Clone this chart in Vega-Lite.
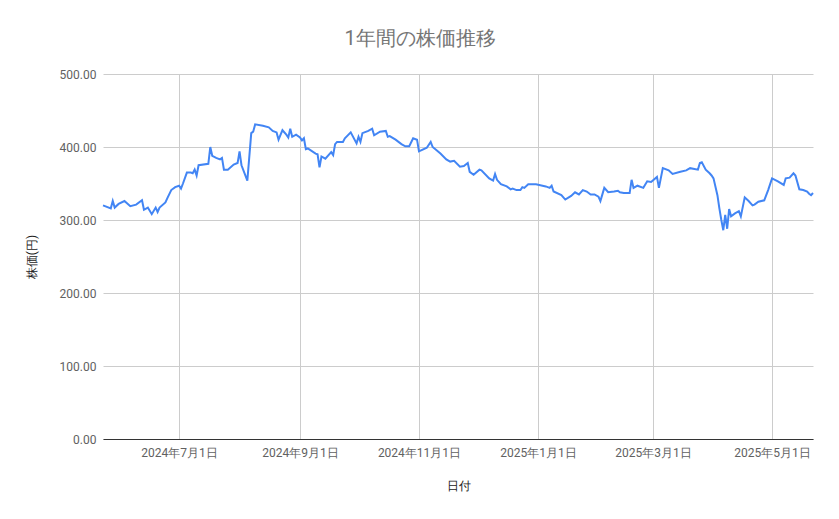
{
  "$schema": "https://vega.github.io/schema/vega-lite/v6.json",
  "width": 710,
  "height": 365,
  "autosize": "none",
  "padding": {"left": 103, "top": 74, "right": 26, "bottom": 80},
  "background": "white",
  "title": {
    "text": "1年間の株価推移",
    "font": "Roboto",
    "fontSize": 20,
    "fontWeight": "normal",
    "color": "#757575",
    "anchor": "middle",
    "dx": -38,
    "offset": 19
  },
  "data": {
    "values": [
      {"date": "2024-05-23", "price": 320}, {"date": "2024-05-27", "price": 316}, {"date": "2024-05-28", "price": 326},
      {"date": "2024-05-29", "price": 317}, {"date": "2024-05-31", "price": 322}, {"date": "2024-06-03", "price": 326},
      {"date": "2024-06-06", "price": 319}, {"date": "2024-06-09", "price": 321}, {"date": "2024-06-12", "price": 327},
      {"date": "2024-06-13", "price": 314}, {"date": "2024-06-15", "price": 317}, {"date": "2024-06-17", "price": 308},
      {"date": "2024-06-19", "price": 317}, {"date": "2024-06-20", "price": 311}, {"date": "2024-06-21", "price": 317},
      {"date": "2024-06-24", "price": 324}, {"date": "2024-06-25", "price": 330}, {"date": "2024-06-27", "price": 341},
      {"date": "2024-06-29", "price": 345}, {"date": "2024-07-01", "price": 347}, {"date": "2024-07-02", "price": 343},
      {"date": "2024-07-03", "price": 350}, {"date": "2024-07-05", "price": 365}, {"date": "2024-07-07", "price": 365},
      {"date": "2024-07-08", "price": 364}, {"date": "2024-07-09", "price": 369}, {"date": "2024-07-10", "price": 361},
      {"date": "2024-07-11", "price": 375}, {"date": "2024-07-16", "price": 377}, {"date": "2024-07-17", "price": 400},
      {"date": "2024-07-18", "price": 388}, {"date": "2024-07-20", "price": 385}, {"date": "2024-07-22", "price": 383},
      {"date": "2024-07-23", "price": 385}, {"date": "2024-07-24", "price": 369}, {"date": "2024-07-26", "price": 369},
      {"date": "2024-07-29", "price": 376}, {"date": "2024-07-31", "price": 378}, {"date": "2024-08-01", "price": 394},
      {"date": "2024-08-02", "price": 375}, {"date": "2024-08-05", "price": 354}, {"date": "2024-08-07", "price": 419},
      {"date": "2024-08-08", "price": 421}, {"date": "2024-08-09", "price": 431}, {"date": "2024-08-13", "price": 429},
      {"date": "2024-08-16", "price": 427}, {"date": "2024-08-18", "price": 422}, {"date": "2024-08-20", "price": 420},
      {"date": "2024-08-21", "price": 410}, {"date": "2024-08-23", "price": 423}, {"date": "2024-08-25", "price": 417},
      {"date": "2024-08-26", "price": 413}, {"date": "2024-08-27", "price": 425}, {"date": "2024-08-28", "price": 414},
      {"date": "2024-08-30", "price": 417}, {"date": "2024-09-01", "price": 413}, {"date": "2024-09-02", "price": 409},
      {"date": "2024-09-03", "price": 412}, {"date": "2024-09-04", "price": 397}, {"date": "2024-09-05", "price": 398},
      {"date": "2024-09-09", "price": 391}, {"date": "2024-09-10", "price": 390}, {"date": "2024-09-11", "price": 372},
      {"date": "2024-09-12", "price": 387}, {"date": "2024-09-14", "price": 384}, {"date": "2024-09-17", "price": 393},
      {"date": "2024-09-18", "price": 389}, {"date": "2024-09-19", "price": 404}, {"date": "2024-09-20", "price": 407},
      {"date": "2024-09-23", "price": 407}, {"date": "2024-09-24", "price": 412}, {"date": "2024-09-27", "price": 420},
      {"date": "2024-09-30", "price": 405}, {"date": "2024-10-01", "price": 414}, {"date": "2024-10-02", "price": 407},
      {"date": "2024-10-03", "price": 419}, {"date": "2024-10-06", "price": 422}, {"date": "2024-10-08", "price": 425},
      {"date": "2024-10-09", "price": 416}, {"date": "2024-10-12", "price": 421}, {"date": "2024-10-15", "price": 422},
      {"date": "2024-10-16", "price": 414}, {"date": "2024-10-17", "price": 415}, {"date": "2024-10-20", "price": 410},
      {"date": "2024-10-23", "price": 404}, {"date": "2024-10-25", "price": 401}, {"date": "2024-10-27", "price": 401},
      {"date": "2024-10-29", "price": 412}, {"date": "2024-10-31", "price": 410}, {"date": "2024-11-01", "price": 394},
      {"date": "2024-11-05", "price": 399}, {"date": "2024-11-07", "price": 407}, {"date": "2024-11-08", "price": 400},
      {"date": "2024-11-12", "price": 391}, {"date": "2024-11-15", "price": 383}, {"date": "2024-11-17", "price": 380},
      {"date": "2024-11-19", "price": 381}, {"date": "2024-11-22", "price": 373}, {"date": "2024-11-24", "price": 374},
      {"date": "2024-11-26", "price": 378}, {"date": "2024-11-27", "price": 366}, {"date": "2024-11-29", "price": 362},
      {"date": "2024-12-02", "price": 369}, {"date": "2024-12-03", "price": 368}, {"date": "2024-12-07", "price": 357},
      {"date": "2024-12-09", "price": 354}, {"date": "2024-12-10", "price": 363}, {"date": "2024-12-11", "price": 355},
      {"date": "2024-12-13", "price": 349}, {"date": "2024-12-16", "price": 346}, {"date": "2024-12-18", "price": 342},
      {"date": "2024-12-19", "price": 343}, {"date": "2024-12-21", "price": 341}, {"date": "2024-12-23", "price": 341},
      {"date": "2024-12-24", "price": 345}, {"date": "2024-12-25", "price": 344}, {"date": "2024-12-27", "price": 349},
      {"date": "2024-12-31", "price": 349}, {"date": "2025-01-05", "price": 346}, {"date": "2025-01-07", "price": 344},
      {"date": "2025-01-08", "price": 347}, {"date": "2025-01-09", "price": 339}, {"date": "2025-01-13", "price": 334},
      {"date": "2025-01-15", "price": 328}, {"date": "2025-01-18", "price": 333}, {"date": "2025-01-20", "price": 338},
      {"date": "2025-01-22", "price": 335}, {"date": "2025-01-24", "price": 341}, {"date": "2025-01-26", "price": 339},
      {"date": "2025-01-28", "price": 335}, {"date": "2025-01-30", "price": 335}, {"date": "2025-02-01", "price": 332},
      {"date": "2025-02-02", "price": 326}, {"date": "2025-02-04", "price": 344}, {"date": "2025-02-06", "price": 338},
      {"date": "2025-02-09", "price": 339}, {"date": "2025-02-11", "price": 340}, {"date": "2025-02-12", "price": 338},
      {"date": "2025-02-14", "price": 337}, {"date": "2025-02-17", "price": 337}, {"date": "2025-02-18", "price": 355},
      {"date": "2025-02-19", "price": 344}, {"date": "2025-02-21", "price": 347}, {"date": "2025-02-24", "price": 344},
      {"date": "2025-02-26", "price": 353}, {"date": "2025-02-28", "price": 352}, {"date": "2025-03-03", "price": 359},
      {"date": "2025-03-04", "price": 344}, {"date": "2025-03-06", "price": 371}, {"date": "2025-03-09", "price": 368},
      {"date": "2025-03-11", "price": 363}, {"date": "2025-03-15", "price": 366}, {"date": "2025-03-18", "price": 368},
      {"date": "2025-03-20", "price": 371}, {"date": "2025-03-24", "price": 369}, {"date": "2025-03-25", "price": 378},
      {"date": "2025-03-26", "price": 379}, {"date": "2025-03-28", "price": 369}, {"date": "2025-03-30", "price": 364},
      {"date": "2025-03-31", "price": 361}, {"date": "2025-04-01", "price": 357}, {"date": "2025-04-03", "price": 334},
      {"date": "2025-04-04", "price": 316}, {"date": "2025-04-05", "price": 300}, {"date": "2025-04-06", "price": 286},
      {"date": "2025-04-07", "price": 307}, {"date": "2025-04-08", "price": 288}, {"date": "2025-04-09", "price": 315},
      {"date": "2025-04-10", "price": 305}, {"date": "2025-04-12", "price": 309}, {"date": "2025-04-14", "price": 312},
      {"date": "2025-04-15", "price": 305}, {"date": "2025-04-17", "price": 331}, {"date": "2025-04-19", "price": 326},
      {"date": "2025-04-21", "price": 320}, {"date": "2025-04-22", "price": 321}, {"date": "2025-04-24", "price": 325},
      {"date": "2025-04-27", "price": 327}, {"date": "2025-04-29", "price": 341}, {"date": "2025-05-01", "price": 357},
      {"date": "2025-05-04", "price": 353}, {"date": "2025-05-07", "price": 348}, {"date": "2025-05-08", "price": 357},
      {"date": "2025-05-10", "price": 358}, {"date": "2025-05-12", "price": 364}, {"date": "2025-05-13", "price": 361},
      {"date": "2025-05-15", "price": 342}, {"date": "2025-05-17", "price": 341}, {"date": "2025-05-19", "price": 339},
      {"date": "2025-05-20", "price": 336}, {"date": "2025-05-21", "price": 334}, {"date": "2025-05-22", "price": 337}
    ]
  },
  "mark": {"type": "line", "color": "#4285F4", "strokeWidth": 2},
  "encoding": {
    "x": {
      "field": "date",
      "type": "temporal",
      "title": "日付",
      "scale": {"type": "utc", "nice": false},
      "axis": {
        "values": [
          {"year": 2024, "month": 7, "date": 1, "utc": true},
          {"year": 2024, "month": 9, "date": 1, "utc": true},
          {"year": 2024, "month": 11, "date": 1, "utc": true},
          {"year": 2025, "month": 1, "date": 1, "utc": true},
          {"year": 2025, "month": 3, "date": 1, "utc": true},
          {"year": 2025, "month": 5, "date": 1, "utc": true}
        ],
        "format": "%Y年%-m月%-d日",
        "grid": true,
        "gridColor": "#cccccc",
        "ticks": false,
        "domainColor": "#333333",
        "labelPadding": 8,
        "labelFlush": false,
        "titlePadding": 22
      }
    },
    "y": {
      "field": "price",
      "type": "quantitative",
      "title": "株価(円)",
      "scale": {"domain": [0, 500]},
      "axis": {
        "values": [0, 100, 200, 300, 400, 500],
        "format": ".2f",
        "grid": true,
        "gridColor": "#cccccc",
        "domain": false,
        "ticks": false,
        "labelPadding": 7,
        "titlePadding": 21
      }
    }
  },
  "config": {
    "view": {"stroke": null},
    "font": "Roboto",
    "axis": {
      "labelFont": "Roboto",
      "labelFontSize": 12,
      "labelColor": "#616161",
      "titleFont": "Roboto",
      "titleFontSize": 12,
      "titleFontWeight": "normal",
      "titleColor": "#222222"
    }
  }
}
